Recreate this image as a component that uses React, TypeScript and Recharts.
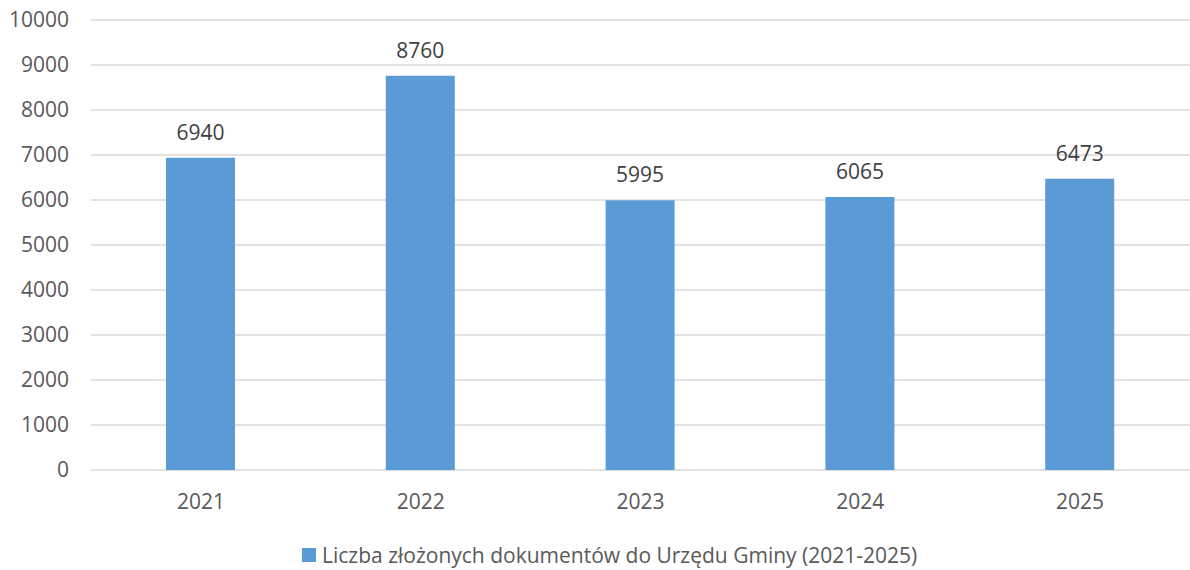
import { BarChart, Bar, XAxis, YAxis, CartesianGrid, Legend, LabelList } from "recharts";

const years = ["2021", "2022", "2023", "2024", "2025"];
const documents = [6940, 8760, 5995, 6065, 6473];
const yTicks = [0, 1000, 2000, 3000, 4000, 5000, 6000, 7000, 8000, 9000, 10000];

const seriesName = "Liczba złożonych dokumentów do Urzędu Gminy (2021-2025)";

const data = years.map((year, i) => ({ year, value: documents[i] }));

const font = "'Open Sans', sans-serif";
const barColor = "#5B9BD5";

const ChartLegend = () => (
  <div
    style={{
      height: 40,
      boxSizing: "border-box",
      paddingTop: 9,
      paddingLeft: 302,
      display: "flex",
      alignItems: "center",
      fontFamily: font,
      fontSize: 21,
      color: "#595959",
    }}
  >
    <span
      style={{
        display: "inline-block",
        width: 14,
        height: 14,
        backgroundColor: barColor,
        marginRight: 6,
      }}
    />
    <span style={{ lineHeight: "20px" }}>{seriesName}</span>
  </div>
);

export default function App() {
  return (
    <div style={{ width: 1190, height: 570, background: "#fff" }}>
      <style>{"body{margin:0}"}</style>
      <BarChart
        width={1190}
        height={570}
        data={data}
        margin={{ top: 20, right: 0, left: 0, bottom: 0 }}
      >
        <CartesianGrid vertical={false} stroke="#D9D9D9" strokeWidth={1.5} />
        <XAxis
          dataKey="year"
          axisLine={false}
          tickLine={false}
          height={60}
          tickMargin={18}
          tick={{ fill: "#595959", fontSize: 21, fontFamily: font }}
        />
        <YAxis
          domain={[0, 10000]}
          ticks={yTicks}
          axisLine={false}
          tickLine={false}
          width={91}
          tickMargin={16}
          tick={{ fill: "#595959", fontSize: 21, fontFamily: font }}
        />
        <Legend verticalAlign="bottom" height={40} content={<ChartLegend />} />
        <Bar dataKey="value" name={seriesName} fill={barColor} barSize={69} isAnimationActive={false}>
          <LabelList
            dataKey="value"
            position="top"
            offset={18}
            fill="#404040"
            fontSize={21}
            fontFamily={font}
          />
        </Bar>
      </BarChart>
    </div>
  );
}
